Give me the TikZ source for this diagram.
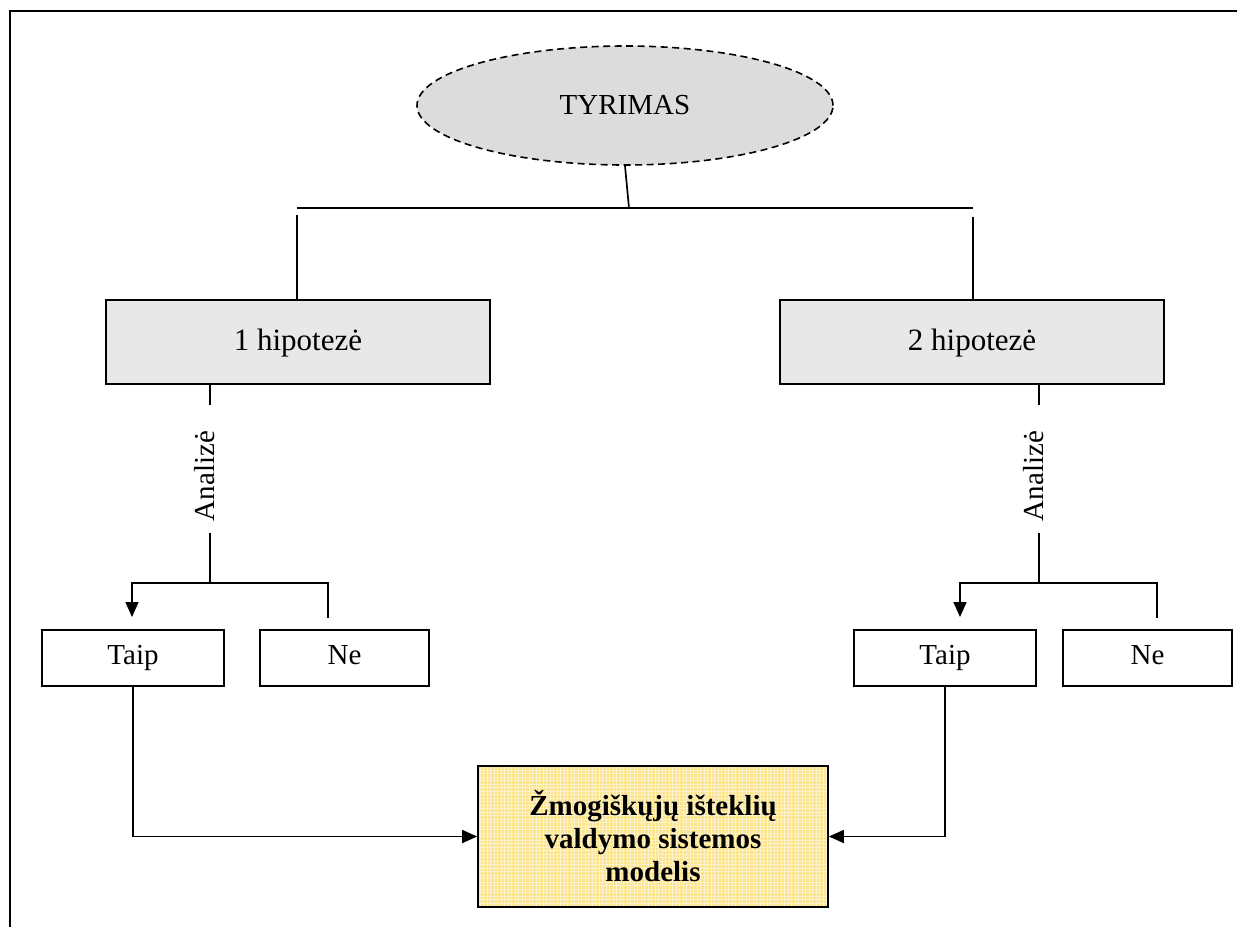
\documentclass[tikz,border=0pt]{standalone}
\usepackage{fontspec}
\setmainfont{Liberation Serif}
\usetikzlibrary{arrows.meta,shapes.geometric}
\definecolor{ellgray}{HTML}{DCDCDC}
\definecolor{boxgray}{HTML}{E8E8E8}
\definecolor{yelfill}{HTML}{FBE48A}
\begin{document}
\begin{tikzpicture}[x=1pt,y=-1pt,line width=1.7pt,
  txt/.style={font=\fontsize{29}{33}\selectfont},
  hypbox/.style={draw,fill=boxgray,minimum width=384pt,minimum height=84pt,inner sep=0pt,
    font=\fontsize{31}{35}\selectfont,text height=20pt,text depth=4pt},
  smallbox/.style={draw,fill=white,minimum height=56pt,inner sep=0pt,txt,text height=19pt,text depth=6pt},
  arr/.style={-{Triangle[length=15pt,width=13pt]}},
]
\useasboundingbox (0,0) rectangle (1237,927);
% frame
\coordinate (fbl) at (10,927);
\coordinate (ftl) at (10,11);
\coordinate (ftr) at (1237,11);
\draw[line width=2.6pt] (fbl) -- (ftl) -- (ftr);

% top ellipse
\node[ellipse,draw,line width=1.6pt,dash pattern=on 7pt off 4.5pt,fill=ellgray,minimum width=416pt,minimum height=119pt,inner sep=0pt,txt] (tyr) at (625,105.5) {TYRIMAS};
\coordinate (jn) at (629,208);
\coordinate (hl) at (297,208);
\coordinate (hr) at (973,208);
\draw (tyr.south) -- (jn);
\draw (hl) -- (hr);

% hypotheses
\node[hypbox] (h1) at (298,342) {1 hipotezė};
\node[hypbox] (h2) at (972,342) {2 hipotezė};
\coordinate (v1) at (297,215);
\coordinate (v2) at (973,217);
\draw (v1) -- (v1 |- h1.north);
\draw (v2) -- (v2 |- h2.north);

% analysis labels
\node[rotate=90,txt,inner sep=0pt] (a1) at (205,476) {Analizė};
\node[rotate=90,txt,inner sep=0pt] (a2) at (1034,476) {Analizė};

% left branch
\coordinate (l1a) at (210,405);
\coordinate (l1b) at (210,533);
\coordinate (l1c) at (210,583);
\coordinate (ar1) at (132,617);
\coordinate (ne1) at (328,618);
\draw (l1a |- h1.south) -- (l1a);
\draw (l1b) -- (l1c);
\draw[arr] (l1c) -| (ar1);
\draw (l1c) -| (ne1);

% right branch
\coordinate (l2a) at (1039,405);
\coordinate (l2b) at (1039,533);
\coordinate (l2c) at (1039,583);
\coordinate (ar2) at (960,617);
\coordinate (ne2) at (1157,618);
\draw (l2a |- h2.south) -- (l2a);
\draw (l2b) -- (l2c);
\draw[arr] (l2c) -| (ar2);
\draw (l2c) -| (ne2);

% yes / no boxes
\node[smallbox,minimum width=182pt] (t1) at (133,658) {Taip};
\node[smallbox,minimum width=169pt] (n1) at (344.5,658) {Ne};
\node[smallbox,minimum width=182pt] (t2) at (945,658) {Taip};
\node[smallbox,minimum width=169pt] (n2) at (1147.5,658) {Ne};

% result box
\node[draw,fill=yelfill,minimum width=350pt,minimum height=141pt,inner sep=0pt,
  align=center,font=\fontsize{29}{33}\selectfont\bfseries,
  path picture={\draw[white,line width=0.7pt,opacity=0.55]
    (path picture bounding box.south west) grid[step=3.5pt] (path picture bounding box.north east);}]
  (m) at (653,836.5) {Žmogiškųjų išteklių\\valdymo sistemos\\modelis};

\draw[arr] (t1.south) |- (m.west);
\draw[arr] (t2.south) |- (m.east);
\end{tikzpicture}
\end{document}
